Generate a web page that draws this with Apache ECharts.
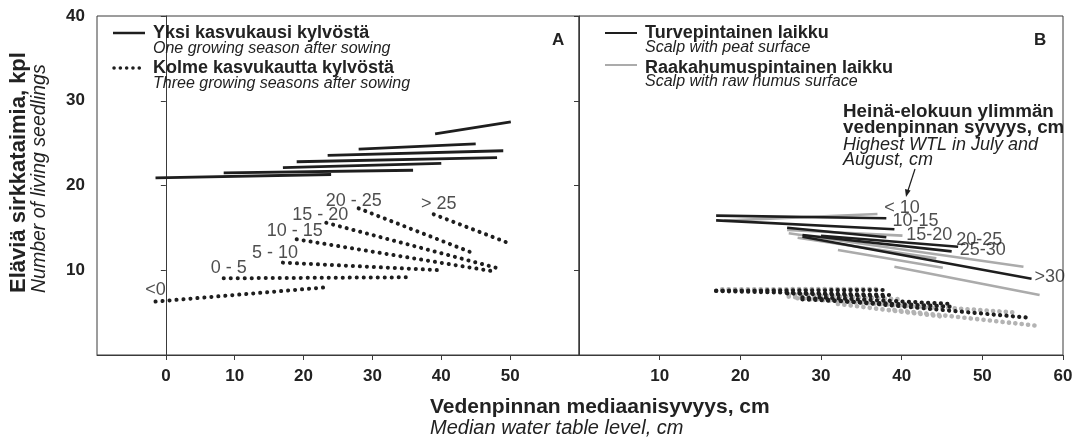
<!DOCTYPE html>
<html><head><meta charset="utf-8">
<script src="https://cdn.jsdelivr.net/npm/echarts@6/dist/echarts.min.js"></script>
<style>html,body{margin:0;padding:0;background:#fff}#c{width:1080px;height:441px}</style>
</head><body><div id="c"></div>
<script>
// ---------- DATA ----------
// Panel A: classes of highest WTL (cm)
const aClasses = ['<0', '0 - 5', '5 - 10', '10 - 15', '15 - 20', '20 - 25', '> 25'];
// one growing season after sowing: [xStart, xEnd], [yStart, yEnd]
const aOneX = [[-1.5, 24.0], [8.4, 35.9], [17.0, 40.0], [19.0, 48.1], [23.5, 49.0], [28.0, 45.0], [39.1, 50.1]];
const aOneY = [[20.9, 21.3], [21.5, 21.8], [22.1, 22.6], [22.8, 23.3], [23.55, 24.1], [24.3, 24.9], [26.1, 27.5]];
// three growing seasons after sowing
const aThreeX = [[-1.5, 23.5], [8.4, 35.6], [17.0, 40.0], [19.0, 47.9], [23.3, 48.4], [28.0, 45.0], [38.9, 50.1]];
const aThreeY = [[6.3, 8.0], [9.05, 9.17], [10.9, 10.0], [13.65, 9.83], [15.6, 10.2], [17.3, 11.9], [16.6, 13.1]];

// Panel B
const bClasses = ['< 10', '10-15', '15-20', '20-25', '25-30', '>30'];
// peat surface, one season
const bPeatOneX = [[17.0, 38.1], [17.0, 39.1], [25.8, 38.1], [30.0, 47.0], [27.7, 46.2], [27.7, 56.1]];
const bPeatOneY = [[16.44, 16.13], [15.89, 14.83], [15.02, 13.89], [14.08, 12.78], [14.16, 12.23], [13.96, 9.0]];
// raw humus surface, one season
const bHumusOneX = [[18.0, 37.0], [25.8, 40.1], [26.0, 55.1], [27.1, 44.3], [32.1, 45.1], [39.1, 57.1]];
const bHumusOneY = [[15.85, 16.64], [14.75, 14.08], [14.36, 10.42], [13.84, 11.4], [12.39, 10.3], [10.42, 7.08]];
// peat surface, three seasons
const bPeatThreeX = [[17.0, 37.65], [17.0, 38.5], [25.8, 38.1], [29.8, 46.2], [27.7, 46.2], [27.7, 56.1]];
const bPeatThreeY = [[7.59, 7.67], [7.55, 7.08], [7.28, 6.88], [6.8, 6.02], [6.57, 5.7], [6.8, 4.37]];
// raw humus surface, three seasons
const bHumusThreeX = [[17.75, 37.03], [26.0, 40.1], [26.0, 54.4], [27.1, 44.3], [32.1, 45.1], [39.1, 57.1]];
const bHumusThreeY = [[7.75, 7.79], [7.16, 6.57], [6.88, 4.99], [6.69, 5.51], [6.02, 4.52], [5.31, 3.42]];

// axis ticks
const yTicks = [10, 20, 30, 40];
const aXTicks = [0, 10, 20, 30, 40, 50];
const bXTicks = [10, 20, 30, 40, 50, 60];

// ---------- PRESENTATION ----------
const FONT = "'Liberation Sans', Arial, Helvetica, sans-serif";
const INK = '#1e1e1e';
const GREY = '#ababab';
const GREYDOT = '#b3b3b3';
const aLabelNudge = [[0, -12], [5, -10], [-8, -10], [-2, -8], [-6, -8], [-5, -7], [5, -10]];
const bLabelNudge = [[-2, -10], [-2, -8], [20, -2], [-2, -7], [8, -1], [3, -2]];

function seg(xs, ys) { return [[xs[0], ys[0]], [xs[1], ys[1]]]; }

const series = [];
function addLine(ax, xs, ys, color, width, dotted) {
  series.push({
    type: 'line', xAxisIndex: ax, yAxisIndex: ax, data: seg(xs, ys),
    symbol: 'none', silent: true, animation: false,
    lineStyle: dotted ? { color, width, type: [0.1, dotted], cap: 'round' } : { color, width, cap: 'butt' }
  });
}
aClasses.forEach((c, i) => {
  addLine(0, aOneX[i], aOneY[i], INK, 2.8, 0);
  addLine(0, aThreeX[i], aThreeY[i], INK, 4, 6.9);
});
bClasses.forEach((c, i) => {
  addLine(1, bHumusOneX[i], bHumusOneY[i], GREY, 2.6, 0);
  addLine(1, bHumusThreeX[i], bHumusThreeY[i], GREYDOT, 4.6, 6.3);
});
bClasses.forEach((c, i) => {
  addLine(1, bPeatOneX[i], bPeatOneY[i], INK, 2.6, 0);
  addLine(1, bPeatThreeX[i], bPeatThreeY[i], INK, 4.2, 6.3);
});
// class labels
series.push({
  type: 'scatter', xAxisIndex: 0, yAxisIndex: 0, symbolSize: 0, silent: true, animation: false, z: 10,
  label: { show: true, position: 'inside', fontFamily: FONT, fontSize: 18, color: '#222' },
  data: aClasses.map((c, i) => ({ value: [aThreeX[i][0], aThreeY[i][0]],
    label: { formatter: c, offset: aLabelNudge[i], align: 'center', verticalAlign: 'middle' } }))
});
series.push({
  type: 'scatter', xAxisIndex: 1, yAxisIndex: 1, symbolSize: 0, silent: true, animation: false, z: 10,
  label: { show: true, position: 'inside', fontFamily: FONT, fontSize: 18, color: '#222' },
  data: bClasses.map((c, i) => ({ value: [bPeatOneX[i][1], bPeatOneY[i][1]],
    label: { formatter: c, offset: bLabelNudge[i], align: 'left', verticalAlign: 'middle' } }))
});

const axisLineStyle = { lineStyle: { color: '#3a3a3a', width: 1 } };
const tickLabel = { fontFamily: FONT, fontSize: 17, fontWeight: 'bold', color: '#222' };

function xAxis(idx, min, max, shown) {
  return {
    type: 'value', gridIndex: idx, min, max, interval: 10,
    axisLine: Object.assign({ show: true }, axisLineStyle),
    axisTick: { show: true, length: 5, customValues: shown, lineStyle: { color: '#3a3a3a' } },
    splitLine: { show: false },
    axisLabel: Object.assign({ margin: 13, formatter: v => shown.includes(v) ? String(v) : '' }, tickLabel)
  };
}
function yAxis(idx, labels) {
  return {
    type: 'value', gridIndex: idx, min: 0, max: 40, interval: 10,
    axisLine: Object.assign({ show: true }, axisLineStyle),
    axisTick: { show: true, length: 5, customValues: yTicks, lineStyle: { color: '#3a3a3a' } },
    splitLine: { show: false },
    axisLabel: Object.assign({ show: labels, margin: 12, formatter: v => yTicks.includes(v) ? String(v) : '' }, tickLabel)
  };
}

function txt(text, x, y, size, weight, style, extra) {
  return Object.assign({
    type: 'text', x, y, silent: true, z: 20,
    style: { text, fill: '#222', fontFamily: FONT, fontSize: size, fontWeight: weight, fontStyle: style,
      textAlign: 'left', textVerticalAlign: 'middle', align: 'left', verticalAlign: 'middle' }
  }, extra || {});
}

const graphic = [
  // y-axis name
  txt('Eläviä sirkkataimia, kpl', 19, 293, 22, 'bold', 'normal', { rotation: Math.PI / 2 }),
  txt('Number of living seedlings', 40, 293, 19.5, 'normal', 'italic', { rotation: Math.PI / 2 }),
  // x-axis name
  txt('Vedenpinnan mediaanisyvyys, cm', 430, 407, 21, 'bold', 'normal'),
  txt('Median water table level, cm', 430, 428, 20, 'normal', 'italic'),
  // panel letters
  txt('A', 552, 40, 17, 'bold', 'normal'),
  txt('B', 1034, 40, 17, 'bold', 'normal'),
  // legend A
  { type: 'line', silent: true, shape: { x1: 113, y1: 33, x2: 145, y2: 33 }, style: { stroke: INK, lineWidth: 2.5 } },
  { type: 'line', silent: true, shape: { x1: 114, y1: 68, x2: 145, y2: 68 }, style: { stroke: INK, lineWidth: 3.5, lineDash: [0.1, 6.2], lineCap: 'round' } },
  txt('Yksi kasvukausi kylvöstä', 153, 33, 18, 'bold', 'normal'),
  txt('One growing season after sowing', 153, 48.5, 16, 'normal', 'italic'),
  txt('Kolme kasvukautta kylvöstä', 153, 68.5, 18, 'bold', 'normal'),
  txt('Three growing seasons after sowing', 153, 83.5, 16, 'normal', 'italic'),
  // legend B
  { type: 'line', silent: true, shape: { x1: 605, y1: 33, x2: 637, y2: 33 }, style: { stroke: INK, lineWidth: 2 } },
  { type: 'line', silent: true, shape: { x1: 605, y1: 65, x2: 637, y2: 65 }, style: { stroke: GREY, lineWidth: 2 } },
  txt('Turvepintainen laikku', 645, 33, 18, 'bold', 'normal'),
  txt('Scalp with peat surface', 645, 48, 16, 'normal', 'italic'),
  txt('Raakahumuspintainen laikku', 645, 68.5, 18, 'bold', 'normal'),
  txt('Scalp with raw humus surface', 645, 82, 16, 'normal', 'italic'),
  // annotation
  txt('Heinä-elokuun ylimmän', 843, 112, 18.8, 'bold', 'normal'),
  txt('vedenpinnan syvyys, cm', 843, 128, 18.8, 'bold', 'normal'),
  txt('Highest WTL in July and', 843, 145, 18, 'normal', 'italic'),
  txt('August, cm', 843, 160, 18, 'normal', 'italic'),
  { type: 'line', silent: true, shape: { x1: 915, y1: 169, x2: 907.5, y2: 192 }, style: { stroke: INK, lineWidth: 1.2 } },
  { type: 'polygon', silent: true, shape: { points: [[906, 197], [910.6, 190.6], [905.0, 189.0]] }, style: { fill: INK } }
];

const option = {
  animation: false,
  backgroundColor: '#fff',
  grid: [
    { left: 97, top: 16, width: 482, height: 339, show: true, borderColor: '#3a3a3a', borderWidth: 1, containLabel: false },
    { left: 579, top: 16, width: 484, height: 339, show: true, borderColor: '#3a3a3a', borderWidth: 1, containLabel: false }
  ],
  xAxis: [xAxis(0, -10, 60, aXTicks), xAxis(1, 0, 60, bXTicks)],
  yAxis: [yAxis(0, true), yAxis(1, false)],
  series,
  graphic
};
const chart = echarts.init(document.getElementById('c'));
chart.setOption(option);
</script></body></html>
